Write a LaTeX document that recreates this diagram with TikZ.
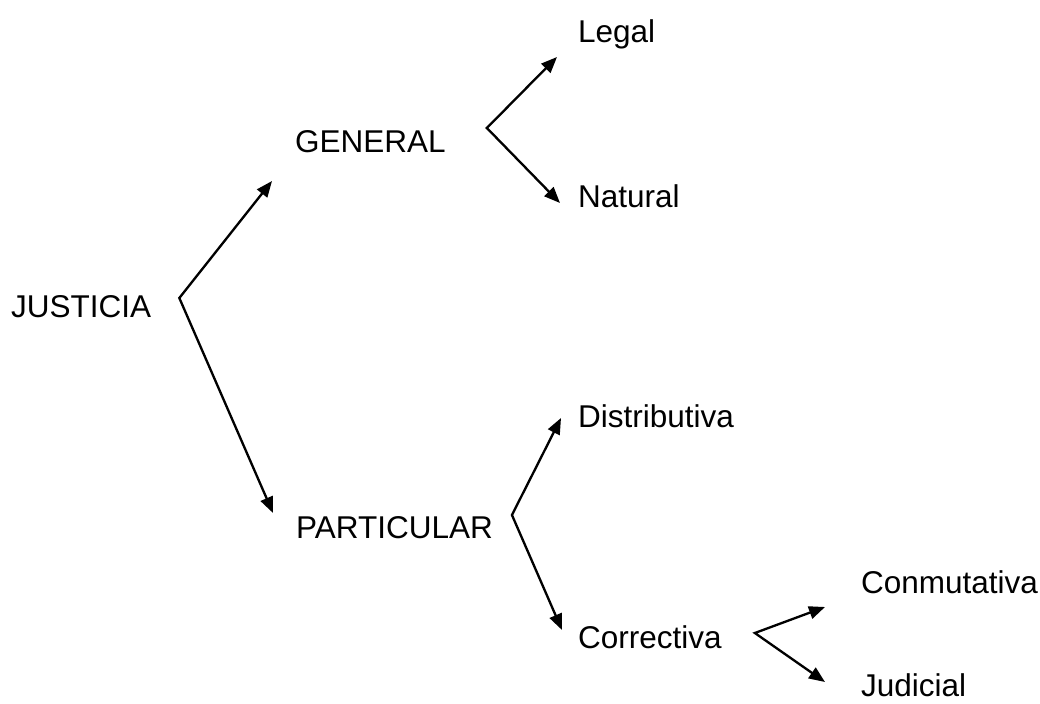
\documentclass[tikz,border=0pt]{standalone}
\usepackage{fontspec}
\setmainfont{Liberation Sans}
\usetikzlibrary{arrows.meta}

\begin{document}
\begin{tikzpicture}[
    x = 0.025cm, y = -0.025cm, % one unit = one pixel of the sketch
    > = {Triangle[length=0.4cm, width=0.32cm]}, % arrow head style
    line width = 0.058cm, % line style
    every node/.style = {inner sep = 0pt, anchor = base west,
        font = \fontsize{22.4}{26}\selectfont}
    ]
    \useasboundingbox (0,0) rectangle (1040,704);

    \node (justicia) at (10,317) {JUSTICIA};
    \node (general) at (294,152) {GENERAL};
    \node (particular) at (295,538) {PARTICULAR};
    \node (legal) at (577,42) {Legal};
    \node (natural) at (577,207) {Natural};
    \node (distributiva) at (577,427) {Distributiva};
    \node (correctiva) at (577,648) {Correctiva};
    \node (conmutativa) at (860,593) {Conmutativa};
    \node (judicial) at (860,696) {Judicial};

    % forks
    \coordinate (jfork) at ([shift={(27,-19)}]justicia.base east);
    \coordinate (gfork) at ([shift={(40,-24)}]general.base east);
    \coordinate (pfork) at ([shift={(18,-23)}]particular.base east);
    \coordinate (cfork) at ([shift={(32,-15)}]correctiva.base east);

    \draw[<->] ([shift={(-22,29)}]general.base west) -- (jfork)
        -- ([shift={(-22,-25)}]particular.base west);
    \draw[<->] ([shift={(-20,15)}]legal.base west) -- (gfork)
        -- ([shift={(-17,-4)}]natural.base west);
    \draw[<->] ([shift={(-16,-9)}]distributiva.base west) -- (pfork)
        -- ([shift={(-15,-18)}]correctiva.base west);
    \draw[<->] ([shift={(-35,14)}]conmutativa.base west) -- (cfork)
        -- ([shift={(-35,-14)}]judicial.base west);
\end{tikzpicture}
\end{document}
